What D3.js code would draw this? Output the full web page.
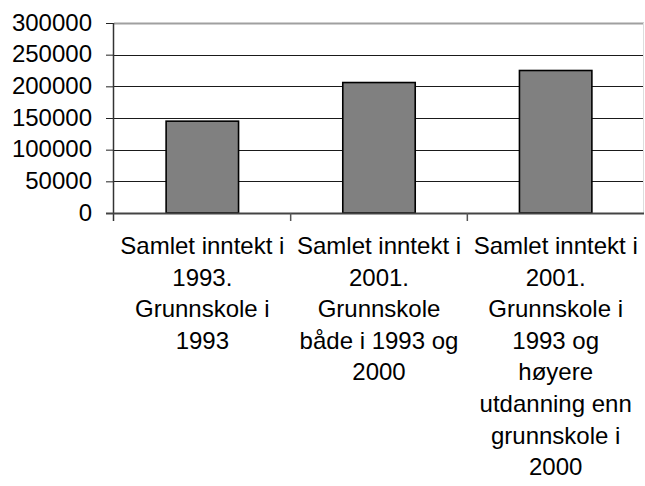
<!DOCTYPE html>
<html>
<head>
<meta charset="utf-8">
<script src="https://cdn.jsdelivr.net/npm/d3@7"></script>
<style>
    body { margin: 0; background: #fff; }
    svg { display: block; font-family: Arial, "Liberation Sans", sans-serif; }
</style>
</head>
<body>
<div id="chart"></div>
<script>
// data
const categories = ['c1993', 'c2001a', 'c2001b'];
const categoryLines = [
    ['Samlet inntekt i', '1993.', 'Grunnskole i', '1993'],
    ['Samlet inntekt i', '2001.', 'Grunnskole', 'både i 1993 og', '2000'],
    ['Samlet inntekt i', '2001.', 'Grunnskole i', '1993 og', 'høyere', 'utdanning enn', 'grunnskole i', '2000']
];
const values = [145000, 206000, 225000];
const yTicks = [0, 50000, 100000, 150000, 200000, 250000, 300000];

// layout
const width = 645;
const height = 486;
const margin = {t:23, r:1, b:273, l:114};
const w = width - margin.l - margin.r;
const h = height - margin.t - margin.b;

const svg = d3.select('#chart')
    .append('svg')
    .attr('width', width)
    .attr('height', height);

const plot = svg.append('g')
    .attr('transform', `translate(${margin.l},${margin.t})`);

// scales
const scaleX = d3.scaleBand()
    .domain(categories)
    .range([0, w])
    .paddingInner(0.59)
    .paddingOuter(0.295);
const step = w / categories.length;

const scaleY = d3.scaleLinear()
    .domain([0, 300000])
    .range([h, 0]);

// gridlines
plot.selectAll('.grid')
    .data(yTicks.filter(d => d > 0))
    .enter()
    .append('line')
    .attr('class', 'grid')
    .attr('x1', 0)
    .attr('x2', w)
    .attr('y1', d => Math.round(scaleY(d)) + 0.5)
    .attr('y2', d => Math.round(scaleY(d)) + 0.5)
    .style('stroke', d => d === 300000 ? '#a0a0a0' : '#1a1a1a')
    .style('stroke-width', d => d === 300000 ? 2 : 1);

// right edge of plot area
plot.append('line')
    .attr('x1', w - 0.5).attr('x2', w - 0.5)
    .attr('y1', 0).attr('y2', h)
    .style('stroke', '#ddd');

// bars
plot.selectAll('.bar')
    .data(values)
    .enter()
    .append('rect')
    .attr('class', 'bar')
    .attr('x', (d, i) => scaleX(categories[i]))
    .attr('y', d => scaleY(d))
    .attr('width', scaleX.bandwidth())
    .attr('height', d => h - scaleY(d))
    .style('fill', '#808080')
    .style('stroke', '#000')
    .style('stroke-width', 1.6);

// y axis
const axisY = d3.axisLeft(scaleY)
    .tickValues(yTicks)
    .tickSize(8)
    .tickPadding(14)
    .tickFormat(d => d);

const axisYNode = plot.append('g')
    .attr('class', 'axis axis-y')
    .call(axisY);
axisYNode.select('.domain').remove();
axisYNode.selectAll('line').style('stroke', '#222');
axisYNode.selectAll('text')
    .attr('dy', '0.3em')
    .style('font-size', '24px')
    .style('fill', '#000');

// y axis line, reaching below zero
plot.append('line')
    .attr('x1', -0.5).attr('x2', -0.5)
    .attr('y1', 0).attr('y2', h + 8)
    .style('stroke', '#333')
    .style('stroke-width', 1.5);

// x axis line
plot.append('line')
    .attr('x1', -8).attr('x2', w)
    .attr('y1', h + 0.5).attr('y2', h + 0.5)
    .style('stroke', '#444')
    .style('stroke-width', 2);

// category ticks
plot.selectAll('.xtick')
    .data(d3.range(1, categories.length))
    .enter()
    .append('line')
    .attr('class', 'xtick')
    .attr('x1', d => d * step)
    .attr('x2', d => d * step)
    .attr('y1', h)
    .attr('y2', h + 8)
    .style('stroke', '#555')
    .style('stroke-width', 1.5);

// category labels
const labels = plot.selectAll('.label')
    .data(categories)
    .enter()
    .append('text')
    .attr('class', 'label')
    .attr('text-anchor', 'middle')
    .attr('transform', d => `translate(${scaleX(d) + scaleX.bandwidth() / 2},${h + 41})`)
    .style('font-size', '24px')
    .style('fill', '#000');

labels.selectAll('tspan')
    .data((d, i) => categoryLines[i])
    .enter()
    .append('tspan')
    .attr('x', 0)
    .attr('y', (d, i) => i * 31.6)
    .text(d => d);
</script>
</body>
</html>
